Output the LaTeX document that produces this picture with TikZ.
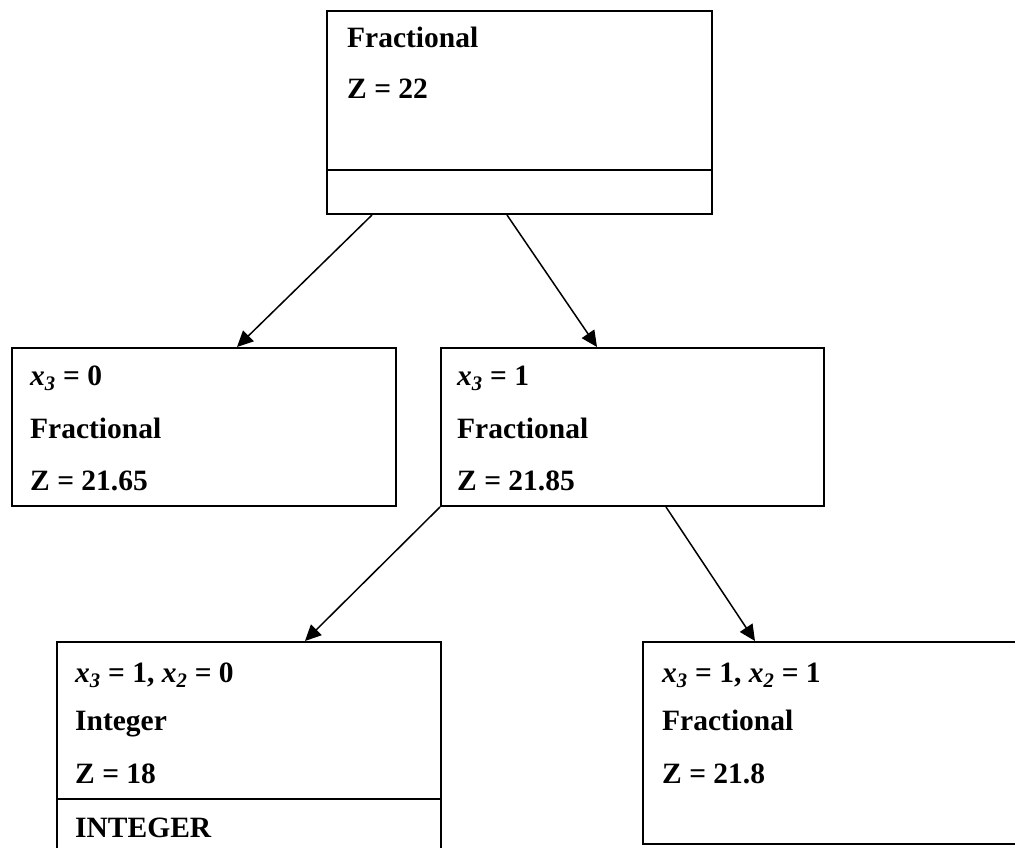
\documentclass[tikz,border=0pt]{standalone}
\usepackage{fontspec}
\setmainfont{Liberation Serif}
\usetikzlibrary{arrows.meta,calc}
\newcommand{\xv}[1]{{\itshape x\textsubscript{#1}}}
\begin{document}
\begin{tikzpicture}[x=1pt,y=-1pt,
  box/.style={draw,line width=2pt,rectangle,inner sep=0pt,anchor=north west},
  divider/.style={line width=2pt},
  lbl/.style={anchor=base west,inner sep=0pt,font=\fontsize{29.5}{32}\selectfont\bfseries},
  link/.style={line width=1.5pt,-{Triangle[length=16pt,width=15pt]}}]
\useasboundingbox (0,0) rectangle (1015,848);
\clip (0,0) rectangle (1015,848);

% boxes of the branch-and-bound tree
\node[box,minimum width=385pt,minimum height=203pt] (top) at (326,10) {};
\node[box,minimum width=384pt,minimum height=158pt] (ml) at (11,347) {};
\node[box,minimum width=383pt,minimum height=158pt] (mr) at (440,347) {};
\node[box,minimum width=384pt,minimum height=240pt] (bl) at (56,641) {};
\node[box,minimum width=390pt,minimum height=202pt] (br) at (642,641) {};

% dividers
\draw[divider] ($(top.south west)+(0,-45)$) -- ($(top.south east)+(0,-45)$);
\draw[divider] ($(bl.north west)+(0,158)$) -- ($(bl.north east)+(0,158)$);

% labels
\node[lbl] (t1) at (347,48) {Fractional};
\node[lbl] (t2) at (347,99) {Z = 22};

\node[lbl] (l1) at (30,385) {\xv{3} = 0};
\node[lbl] (l2) at (30,438) {Fractional};
\node[lbl] (l3) at (30,490) {Z = 21.65};

\node[lbl] (r1) at (457,385) {\xv{3} = 1};
\node[lbl] (r2) at (457,438) {Fractional};
\node[lbl] (r3) at (457,490) {Z = 21.85};

\node[lbl] (b1) at (75,682) {\xv{3} = 1, \xv{2} = 0};
\node[lbl] (b2) at (75,730) {Integer};
\node[lbl] (b3) at (75,783) {Z = 18};
\node[lbl] (b4) at (75,837) {INTEGER};

\node[lbl] (c1) at (662,682) {\xv{3} = 1, \xv{2} = 1};
\node[lbl] (c2) at (662,730) {Fractional};
\node[lbl] (c3) at (662,783) {Z = 21.8};

% branches
\draw[link] ($(top.south west)+(46,0)$) -- ($(ml.north west)+(226,0)$);
\draw[link] ($(top.south west)+(181,0)$) -- ($(mr.north west)+(157,0)$);
\draw[link] (mr.south west) -- ($(bl.north west)+(249,0)$);
\draw[link] ($(mr.south west)+(226,0)$) -- ($(br.north west)+(113,0)$);
\end{tikzpicture}
\end{document}
